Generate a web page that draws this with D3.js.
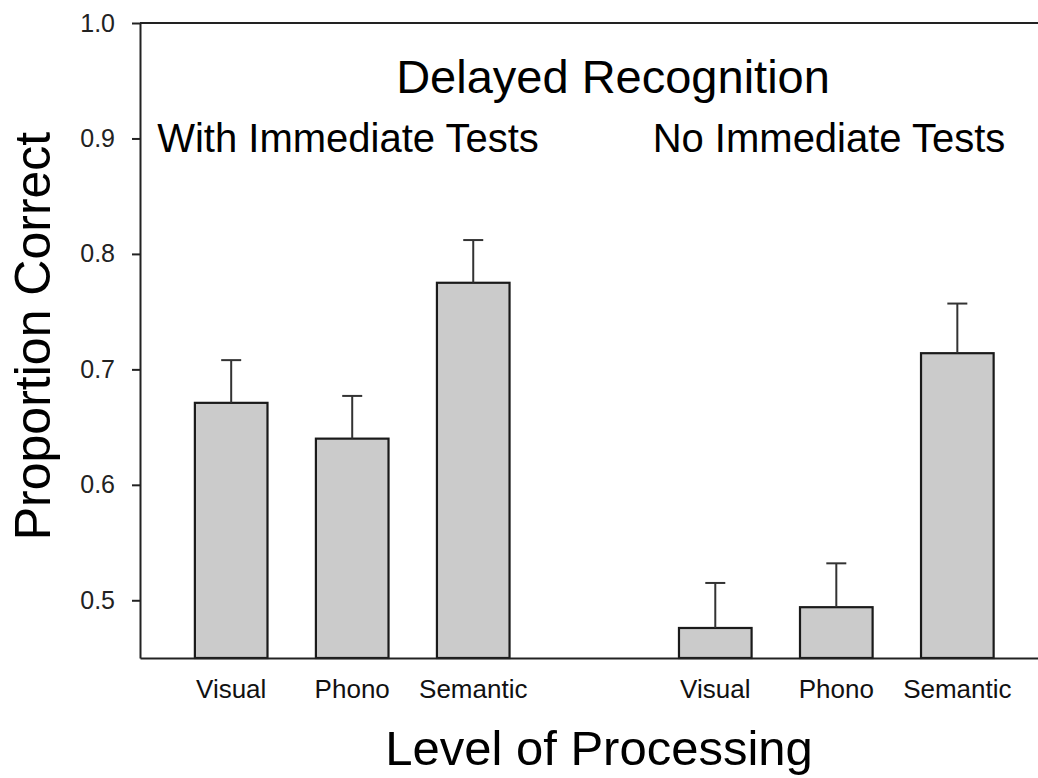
<!DOCTYPE html>
<html>
<head>
<meta charset="utf-8">
<script src="https://cdn.jsdelivr.net/npm/d3@7"></script>
<style>
  body { margin: 0; background: #fff; }
  svg { display: block; font-family: "Liberation Sans", Arial, sans-serif; }
</style>
</head>
<body>
<svg id="chart" width="1038" height="778"></svg>
<script>
// data
const levels = ['Visual', 'Phono', 'Semantic'];
const conditions = ['With Immediate Tests', 'No Immediate Tests'];
const withTestsMeans = [0.671, 0.640, 0.775];
const withTestsErr = [0.037, 0.037, 0.037];
const noTestsMeans = [0.476, 0.494, 0.714];
const noTestsErr = [0.039, 0.038, 0.043];
const yTicks = [0.5, 0.6, 0.7, 0.8, 0.9, 1.0];

const title = 'Delayed Recognition';
const xTitle = 'Level of Processing';
const yTitle = 'Proportion Correct';

const width = 1038, height = 778;
const plot = { left: 140, right: 1038, top: 23, bottom: 658 };

// build bar rows, one empty slot between the two groups
const rows = [];
levels.forEach((lev, i) => rows.push({ slot: 'a' + i, level: lev, mean: withTestsMeans[i], err: withTestsErr[i] }));
levels.forEach((lev, i) => rows.push({ slot: 'b' + i, level: lev, mean: noTestsMeans[i], err: noTestsErr[i] }));
const slots = ['a0', 'a1', 'a2', 'gap', 'b0', 'b1', 'b2'];

const svg = d3.select('#chart');

const x = d3.scaleBand()
    .domain(slots)
    .range([plot.left, plot.right])
    .paddingInner(0.4)
    .paddingOuter(0.41)
    .align(0.553);

const y = d3.scaleLinear()
    .domain([0.45, 1.0])
    .range([plot.bottom, plot.top]);

// bars
svg.append('g').selectAll('rect')
    .data(rows)
    .enter()
    .append('rect')
    .attr('x', d => x(d.slot))
    .attr('y', d => y(d.mean))
    .attr('width', x.bandwidth())
    .attr('height', d => y(0.45) - y(d.mean))
    .attr('fill', '#cbcbcb')
    .attr('stroke', '#1a1a1a')
    .attr('stroke-width', 2.2);

// error bars (upper only)
const capHalf = 10;
const err = svg.append('g').selectAll('g')
    .data(rows)
    .enter()
    .append('g')
    .attr('stroke', '#333')
    .attr('stroke-width', 2);

err.append('line')
    .attr('x1', d => x(d.slot) + x.bandwidth() / 2)
    .attr('x2', d => x(d.slot) + x.bandwidth() / 2)
    .attr('y1', d => y(d.mean))
    .attr('y2', d => y(d.mean + d.err));

err.append('line')
    .attr('x1', d => x(d.slot) + x.bandwidth() / 2 - capHalf)
    .attr('x2', d => x(d.slot) + x.bandwidth() / 2 + capHalf)
    .attr('y1', d => y(d.mean + d.err))
    .attr('y2', d => y(d.mean + d.err));

// y axis
const yAxis = svg.append('g')
    .attr('transform', `translate(${plot.left},0)`)
    .call(d3.axisLeft(y).tickValues(yTicks).tickFormat(d3.format('.1f')).tickSize(8).tickPadding(17).tickSizeOuter(0));
yAxis.select('.domain').attr('stroke', '#222').attr('stroke-width', 2);
yAxis.selectAll('.tick line').attr('stroke', '#222').attr('stroke-width', 2);
yAxis.selectAll('.tick text')
    .attr('fill', '#222')
    .style('font-size', '25px')
    .style('font-family', '"Liberation Sans", Arial, sans-serif');

// top frame line
svg.append('line')
    .attr('x1', plot.left).attr('x2', plot.right)
    .attr('y1', y(1.0)).attr('y2', y(1.0))
    .attr('stroke', '#222').attr('stroke-width', 2);

// x axis
const xAxis = svg.append('g')
    .attr('transform', `translate(0,${y(0.45)})`)
    .call(d3.axisBottom(x)
        .tickValues(rows.map(d => d.slot))
        .tickFormat(s => rows.find(r => r.slot === s).level)
        .tickSize(0).tickPadding(22));
xAxis.select('.domain').attr('stroke', '#222').attr('stroke-width', 2);
xAxis.selectAll('.tick text')
    .attr('fill', '#111')
    .style('font-size', '26px')
    .style('font-family', '"Liberation Sans", Arial, sans-serif');

// titles
svg.append('text')
    .attr('x', 613).attr('y', 93)
    .attr('text-anchor', 'middle')
    .style('font-size', '47px')
    .text(title);

svg.append('g').selectAll('text')
    .data(conditions)
    .enter()
    .append('text')
    .attr('x', (d, i) => i === 0 ? 348 : 829)
    .attr('y', 152)
    .attr('text-anchor', 'middle')
    .style('font-size', '40px')
    .text(d => d);

svg.append('text')
    .attr('x', 599).attr('y', 765)
    .attr('text-anchor', 'middle')
    .style('font-size', '49px')
    .text(xTitle);

svg.append('text')
    .attr('transform', 'translate(50,336) rotate(-90)')
    .attr('text-anchor', 'middle')
    .style('font-size', '50px')
    .text(yTitle);
</script>
</body>
</html>
